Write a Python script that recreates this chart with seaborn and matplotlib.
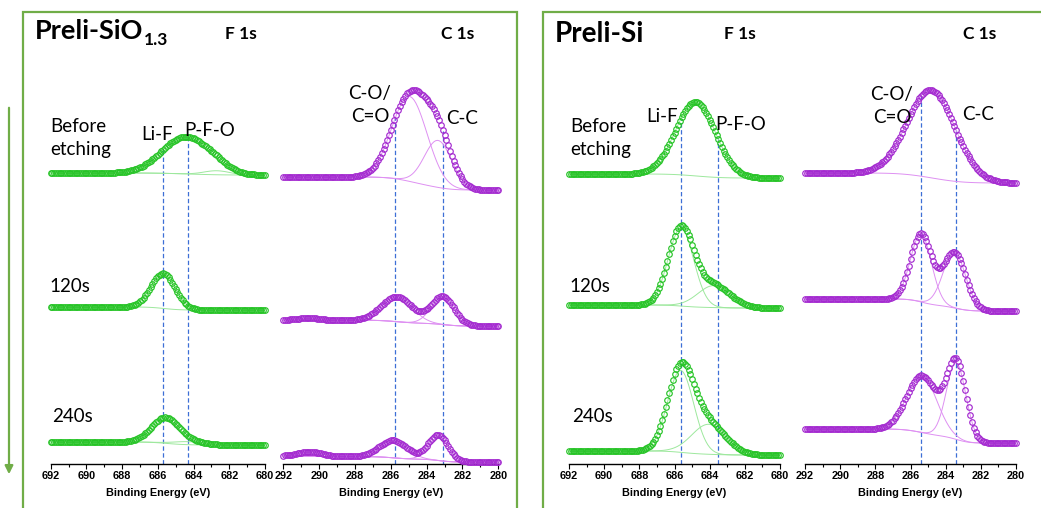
import numpy as np
import pandas as pd
import matplotlib
matplotlib.use("Agg")
import matplotlib.pyplot as plt
import seaborn as sns
from matplotlib.patches import Rectangle, FancyArrowPatch
from matplotlib.ticker import MultipleLocator

sns.set_theme(style="white", rc={"text.color": "black", "xtick.color": "black",
                                 "axes.labelcolor": "black"})
plt.rcParams["font.family"] = ["Lato", "DejaVu Sans"]

W, H = 1041, 508
AXIS_FONT = ["Liberation Sans", "DejaVu Sans"]

# ---------------------------------------------------------------- data
# binding energy grids (eV), 0.1 eV step, high -> low
f1s_energy = np.round(np.arange(692.0, 679.95, -0.1), 2)
c1s_energy = np.round(np.arange(292.0, 279.95, -0.1), 2)

f1s_ticks = [692, 690, 688, 686, 684, 682, 680]
c1s_ticks = [292, 290, 288, 286, 284, 282, 280]

etch_labels = ["Before\netching", "120s", "240s"]

# background level (a.u., stacked offsets) at the high-BE and low-BE ends
sio_f1s_bg_high = [291, 157, 22]
sio_f1s_bg_low = [289, 154, 19]
sio_c1s_bg_high = [287, 144, 8]
sio_c1s_bg_low = [274, 138, 2]
si_f1s_bg_high = [290, 159, 13]
si_f1s_bg_low = [286, 156, 9]
si_c1s_bg_high = [291, 165, 35]
si_c1s_bg_low = [281, 153, 21]

# fitted components: (centre eV, height a.u., FWHM eV)
sio_f1s_peaks = [
    [(684.45, 37, 3.1), (682.7, 4, 1.7)],
    [(685.7, 35, 1.6)],
    [(685.6, 25, 1.8), (684.3, 3, 2.0)],
]
sio_c1s_peaks = [
    [(284.95, 85, 2.3), (283.36, 47, 1.8)],
    [(290.6, 2, 1.5), (285.65, 25, 2.0), (283.1, 28, 1.5)],
    [(290.5, 4.5, 1.6), (285.85, 17.5, 1.8), (283.35, 25.5, 1.3)],
]
si_f1s_peaks = [
    [(684.8, 74, 2.65)],
    [(685.63, 78, 1.7), (683.75, 22, 2.2)],
    [(685.65, 82, 1.75), (684.05, 30, 2.3)],
]
si_c1s_peaks = [
    [(284.82, 88, 3.2)],
    [(285.4, 68, 1.4), (283.5, 56, 1.5)],
    [(285.35, 57, 2.0), (283.4, 77, 1.3)],
]

# reference binding energies of the assigned species
sio_f1s_refs = [685.7, 684.3]   # Li-F, P-F-O
sio_c1s_refs = [285.75, 283.07]  # C-O/C=O, C-C
si_f1s_refs = [685.63, 683.53]
si_c1s_refs = [285.4, 283.4]

# ---------------------------------------------------------------- colours
GREEN = "#27C427"
GREEN_LIGHT = "#9DE89D"
PURPLE = "#A42BD0"
PURPLE_LIGHT = "#DE90F2"
FRAME = "#70AD47"
REFLINE = "#3D6FD6"


def gauss(E, c, h, w):
    return h * np.exp(-4 * np.log(2) * ((E - c) / w) ** 2)


def shirley(E, total, high, low):
    # E runs high -> low; integrate from the low-BE side
    cum = np.cumsum(total[::-1])
    cum = cum / cum[-1]
    return low + (high - low) * cum[::-1]


def spectrum(E, peaks, high, low):
    comps = [gauss(E, *p) for p in peaks]
    total = np.sum(comps, axis=0)
    bg = shirley(E, total, high, low)
    return bg, comps, bg + total


def px(x, y):
    return x / W, 1 - y / H


fig = plt.figure(figsize=(W / 100, H / 100), dpi=100)

AX_BOTTOM, AX_TOP = 464, 60


def make_axes(x0, x1):
    l, b = px(x0, AX_BOTTOM)
    ax = fig.add_axes([l, b, (x1 - x0) / W, (AX_BOTTOM - AX_TOP) / H])
    ax.patch.set_alpha(0)
    return ax


def style_axes(ax, ticks):
    ax.set_xlim(max(ticks), min(ticks))
    ax.set_ylim(0, AX_BOTTOM - AX_TOP)
    for s in ("left", "top", "right"):
        ax.spines[s].set_visible(False)
    ax.spines["bottom"].set_color("black")
    ax.spines["bottom"].set_linewidth(1.0)
    ax.set_yticks([])
    ax.set_ylabel("")
    ax.set_xticks(ticks)
    ax.set_xticklabels([str(t) for t in ticks], fontsize=7.8, fontweight="bold",
                       family=AXIS_FONT, color="black")
    ax.xaxis.set_minor_locator(MultipleLocator(1))
    ax.tick_params(axis="x", which="major", direction="out", length=3.3,
                   width=0.8, color="black", bottom=True, pad=1.5)
    ax.tick_params(axis="x", which="minor", direction="out", length=2.0,
                   width=0.8, color="black", bottom=True)
    ax.set_xlabel("Binding Energy (eV)", family=AXIS_FONT,
                  fontweight="bold", fontsize=7.8, labelpad=5.5, color="black")


def draw_panel(ax, E, peaks_list, highs, lows, refs, col, light):
    tops = None
    for i, (peaks, hi, lo) in enumerate(zip(peaks_list, highs, lows)):
        bg, comps, env = spectrum(E, peaks, hi, lo)
        sns.lineplot(x=E, y=bg, ax=ax, color=light, linewidth=0.7,
                     sort=False, estimator=None, zorder=2)
        for c in comps:
            sns.lineplot(x=E, y=bg + c, ax=ax, color=light, linewidth=0.7,
                         sort=False, estimator=None, zorder=2)
        sns.lineplot(x=E, y=env, ax=ax, color=col, linewidth=0,
                     marker="o", markersize=4.0, markerfacecolor="none",
                     markeredgecolor=col, markeredgewidth=0.85,
                     sort=False, estimator=None, zorder=3, clip_on=False)
        if i == 0:
            tops = [np.interp(r, E[::-1], env[::-1]) for r in refs]
    for r, t in zip(refs, tops):
        ax.vlines(r, 0, t, colors=REFLINE, linewidth=0.9,
                  linestyles=(0, (3.5, 2)), zorder=1.5)


ax1 = make_axes(50.7, 265.0)
ax2 = make_axes(283.3, 498.3)
ax3 = make_axes(569.0, 780.0)
ax4 = make_axes(805.0, 1016.0)

draw_panel(ax1, f1s_energy, sio_f1s_peaks, sio_f1s_bg_high, sio_f1s_bg_low,
           sio_f1s_refs, GREEN, GREEN_LIGHT)
draw_panel(ax2, c1s_energy, sio_c1s_peaks, sio_c1s_bg_high, sio_c1s_bg_low,
           sio_c1s_refs, PURPLE, PURPLE_LIGHT)
draw_panel(ax3, f1s_energy, si_f1s_peaks, si_f1s_bg_high, si_f1s_bg_low,
           si_f1s_refs, GREEN, GREEN_LIGHT)
draw_panel(ax4, c1s_energy, si_c1s_peaks, si_c1s_bg_high, si_c1s_bg_low,
           si_c1s_refs, PURPLE, PURPLE_LIGHT)

style_axes(ax1, f1s_ticks)
style_axes(ax2, c1s_ticks)
style_axes(ax3, f1s_ticks)
style_axes(ax4, c1s_ticks)

# ---------------------------------------------------------------- frames & arrow
fig.add_artist(Rectangle(px(23, 520), 494 / W, 508 / H, transform=fig.transFigure,
                         fill=False, edgecolor=FRAME, linewidth=1.6, clip_on=False))
fig.add_artist(Rectangle(px(543, 520), 520 / W, 508 / H, transform=fig.transFigure,
                         fill=False, edgecolor=FRAME, linewidth=1.6, clip_on=False))
fig.add_artist(FancyArrowPatch(px(9, 105), px(9, 477), transform=fig.transFigure,
                               arrowstyle="-|>", mutation_scale=12,
                               color=FRAME, linewidth=1.6))

# ---------------------------------------------------------------- text
def ftext(x, y, s, **kw):
    kw.setdefault("fontsize", 13.5)
    kw.setdefault("color", "black")
    return fig.text(*px(x, y), s, **kw)


title = ftext(35, 39, "Preli-SiO", fontsize=19.5, fontweight="bold", va="baseline")
fig.canvas.draw()
ext = title.get_window_extent()
fig.text(ext.x1 / W + 1 / W, 1 - 45 / H, "1.3", fontsize=12.5, fontweight="bold",
         va="baseline")
ftext(555, 42, "Preli-Si", fontsize=20, fontweight="bold", va="baseline")

for x in (241, 740):
    ftext(x, 34, "F 1s", fontsize=12.5, fontweight="bold", ha="center", va="center")
for x in (458, 980):
    ftext(x, 34, "C 1s", fontsize=12.5, fontweight="bold", ha="center", va="center")

for x0 in (50, 570):
    ftext(x0, 138, etch_labels[0], ha="left", va="center", linespacing=1.45)
    ftext(x0 - 1, 286, etch_labels[1], ha="left", va="center")
    ftext(x0 + 2, 417, etch_labels[2], ha="left", va="center")

ftext(157, 135, "Li-F", ha="center", va="center")
ftext(210, 131, "P-F-O", ha="center", va="center")
ftext(662, 116, "Li-F", ha="center", va="center")
ftext(741, 125, "P-F-O", ha="center", va="center")

ftext(370, 105, "C-O/\nC=O", ha="center", va="center", linespacing=1.45)
ftext(462, 118, "C-C", ha="center", va="center")
ftext(892, 106, "C-O/\nC=O", ha="center", va="center", linespacing=1.45)
ftext(978, 115, "C-C", ha="center", va="center")

fig.savefig("out.png", dpi=100)
